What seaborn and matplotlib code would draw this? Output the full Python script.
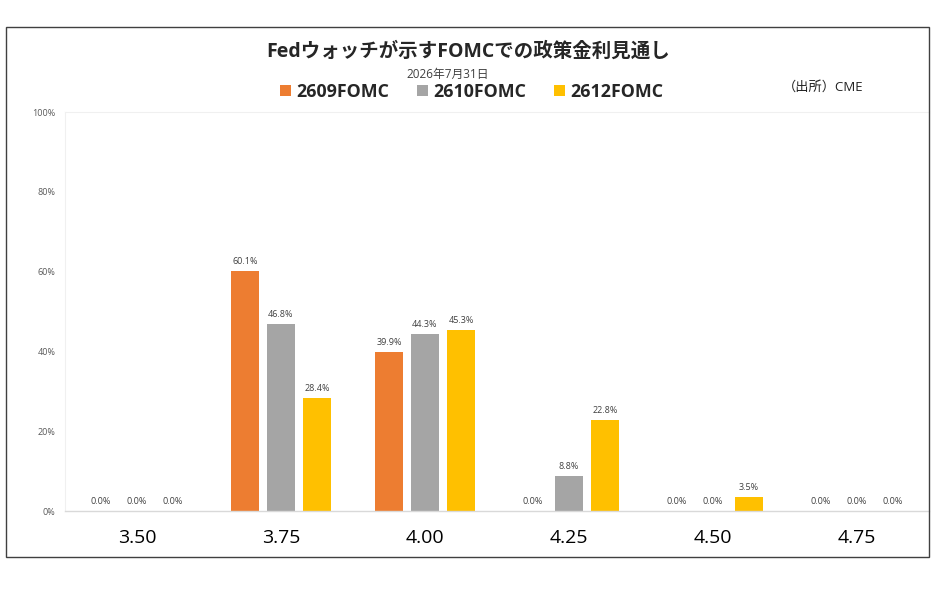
import pandas as pd
import matplotlib
matplotlib.use('Agg')
import matplotlib.pyplot as plt
import seaborn as sns
from matplotlib.patches import Rectangle
from matplotlib.ticker import FixedLocator

rates = ['3.50', '3.75', '4.00', '4.25', '4.50', '4.75']
fomc_2609 = [0.0, 60.1, 39.9, 0.0, 0.0, 0.0]
fomc_2610 = [0.0, 46.8, 44.3, 8.8, 0.0, 0.0]
fomc_2612 = [0.0, 28.4, 45.3, 22.8, 3.5, 0.0]
series = ['2609FOMC', '2610FOMC', '2612FOMC']
colors = ['#ED7D31', '#A5A5A5', '#FFC000']

df = pd.DataFrame({
    'rate': rates * 3,
    'prob': fomc_2609 + fomc_2610 + fomc_2612,
    'meeting': [series[0]] * 6 + [series[1]] * 6 + [series[2]] * 6,
})

sns.set_style('white')
plt.rcParams['font.family'] = ['Open Sans', 'Noto Sans CJK JP', 'DejaVu Sans']

fig = plt.figure(figsize=(9.45, 5.92), dpi=100)
ax = fig.add_axes([0.0688, 0.1368, 0.9142, 0.674])

sns.barplot(data=df, x='rate', y='prob', hue='meeting', hue_order=series,
            palette=colors, width=0.75, gap=0.22, saturation=1,
            linewidth=0, edgecolor='none', ax=ax)

for c in ax.containers:
    ax.bar_label(c, fmt='%.1f%%', padding=3.5, fontsize=6.5, color='#404040')

ax.set_ylim(0, 100)
ax.set_yticks([0, 20, 40, 60, 80, 100])
ax.set_yticklabels([f'{v}%' for v in [0, 20, 40, 60, 80, 100]], fontsize=6.5, color='#595959')
ax.set_xlim(-0.5, 5.5)
ax.set_xticks(range(len(rates)))
ax.set_xticklabels(rates, fontsize=14, color='black')
ax.xaxis.set_minor_locator(FixedLocator([i - 0.5 for i in range(len(rates) + 1)]))
ax.tick_params(axis='x', which='major', length=0, pad=13)
ax.tick_params(axis='x', which='minor', length=6, color='#d9d9d9', width=1)
ax.tick_params(axis='y', length=0, pad=7)
ax.set_xlabel('')
ax.set_ylabel('')

for s in ['left', 'top']:
    ax.spines[s].set_color('#f0f0f0')
    ax.spines[s].set_linewidth(0.8)
ax.spines['right'].set_visible(False)
ax.spines['bottom'].set_color('#d9d9d9')
ax.spines['bottom'].set_linewidth(1)

handles, labels = ax.get_legend_handles_labels()
ax.legend(handles, labels, ncol=3, frameon=False, loc='center',
          bbox_to_anchor=(0.499, 0.845), bbox_transform=fig.transFigure,
          prop={'weight': 'bold', 'size': 12.8}, handlelength=0.62, handleheight=0.62,
          handletextpad=0.3, columnspacing=1.55)

fig.text(0.495, 0.912, 'Fedウォッチが示すFOMCでの政策金利見通し', ha='center', va='center',
         fontsize=14, fontweight='bold')
fig.text(0.474, 0.874, '2026年7月31日', ha='center', va='center', fontsize=8.5, color='#404040')
fig.text(0.871, 0.853, '（出所）CME', ha='center', va='center', fontsize=9.5, color='#202020')

fig.patches.append(Rectangle((0.0063, 0.0591), 0.9767, 0.8949, transform=fig.transFigure,
                             fill=False, edgecolor='#404040', linewidth=1))

fig.savefig('out.png', dpi=100)
